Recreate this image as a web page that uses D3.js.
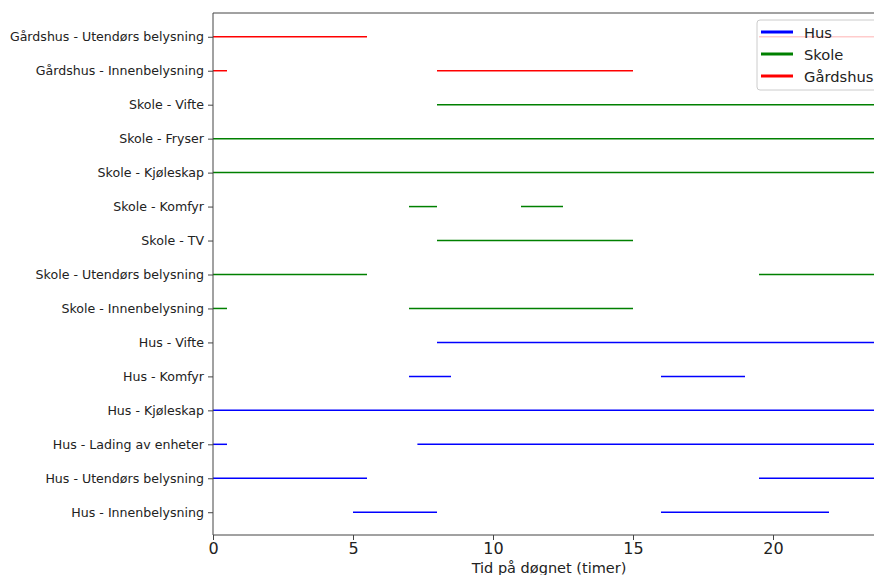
<!DOCTYPE html>
<html><head><meta charset="utf-8">
<script src="https://cdn.jsdelivr.net/npm/d3@7"></script>
<style>body{margin:0;background:#fff}svg{display:block}text{font-family:"DejaVu Sans",sans-serif}</style>
</head><body><svg id="c" width="874" height="575"></svg>
<script>
const categories = [
  "Hus - Innenbelysning","Hus - Utendørs belysning","Hus - Lading av enheter","Hus - Kjøleskap",
  "Hus - Komfyr","Hus - Vifte","Skole - Innenbelysning","Skole - Utendørs belysning","Skole - TV",
  "Skole - Komfyr","Skole - Kjøleskap","Skole - Fryser","Skole - Vifte",
  "Gårdshus - Innenbelysning","Gårdshus - Utendørs belysning"
];
const groups = ["Hus","Skole","Gårdshus"];
const groupColors = ["blue","green","red"];
// intervals [start, end] in hours for each category
const intervals = [
  [[5,8],[16,22]],
  [[0,5.5],[19.5,24]],
  [[0,0.5],[7.3,24]],
  [[0,24]],
  [[7,8.5],[16,19]],
  [[8,24]],
  [[0,0.5],[7,15]],
  [[0,5.5],[19.5,24]],
  [[8,15]],
  [[7,8],[11,12.5]],
  [[0,24]],
  [[0,24]],
  [[8,24]],
  [[0,0.5],[8,15]],
  [[0,5.5],[19.5,24]]
];
const xTicks = [0,5,10,15,20];

const svg = d3.select("#c");
const x = d3.scaleLinear().domain([0,24]).range([213,885]);
const y = d3.scaleLinear().domain([-0.7,14.7]).range([536,13]);

const segs = [];
categories.forEach((c,i)=>{
  const g = groups.indexOf(c.split(" - ")[0]);
  intervals[i].forEach(iv=>segs.push({i,g,a:iv[0],b:iv[1]}));
});
svg.append("g").selectAll("line").data(segs).join("line")
  .attr("x1",d=>x(d.a)).attr("x2",d=>x(d.b))
  .attr("y1",d=>y(d.i)).attr("y2",d=>y(d.i))
  .attr("stroke",d=>groupColors[d.g]).attr("stroke-width",1.5);

// spines
svg.append("line").attr("x1",213).attr("x2",213).attr("y1",13).attr("y2",535).attr("stroke","#444");
svg.append("line").attr("x1",213).attr("x2",885).attr("y1",13).attr("y2",13).attr("stroke","#444");
svg.append("line").attr("x1",213).attr("x2",885).attr("y1",535).attr("y2",535).attr("stroke","#444");

const xa = svg.append("g").attr("transform","translate(0,535)")
  .call(d3.axisBottom(x).tickValues(xTicks).tickSize(5).tickPadding(3).tickFormat(d3.format("d")));
xa.select(".domain").remove();
xa.selectAll("line").attr("stroke","#444");
xa.selectAll("text").attr("font-size",16).attr("fill","#222").style("font-family","DejaVu Sans");

const ya = svg.append("g").attr("transform","translate(213,0)")
  .call(d3.axisLeft(y).tickValues(d3.range(categories.length)).tickSize(5).tickPadding(4).tickFormat(i=>categories[i]));
ya.select(".domain").remove();
ya.selectAll("line").attr("stroke","#444");
ya.selectAll("text").attr("font-size",12.6).attr("fill","#222").style("font-family","DejaVu Sans");

svg.append("text").attr("x",549).attr("y",573).attr("text-anchor","middle")
  .attr("font-size",14.5).attr("fill","#222").text("Tid på døgnet (timer)");

// legend
const lg = svg.append("g");
lg.append("rect").attr("x",757).attr("y",20).attr("width",130).attr("height",70).attr("rx",3)
  .attr("fill","white").attr("fill-opacity",0.8).attr("stroke","#ccc");
groups.forEach((g,k)=>{
  const yy = 32 + k*22;
  lg.append("line").attr("x1",761).attr("x2",793).attr("y1",yy).attr("y2",yy)
    .attr("stroke",groupColors[k]).attr("stroke-width",3);
  lg.append("text").attr("x",804).attr("y",yy+5.5).attr("font-size",14.7).attr("fill","#222").text(g);
});
</script></body></html>
